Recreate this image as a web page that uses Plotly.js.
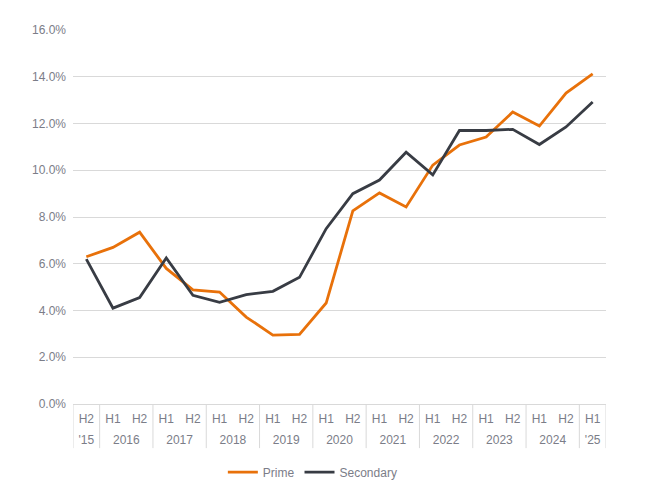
<!DOCTYPE html>
<html>
<head>
<meta charset="utf-8">
<script src="https://cdn.plot.ly/plotly-3.0.1.min.js"></script>
<style>html,body{margin:0;padding:0;background:#fff;}#chart{width:665px;height:485px;}</style>
</head>
<body>
<div id="chart"></div>
<script>
var yearLabels = ["'15","2016","2016","2017","2017","2018","2018","2019","2019","2020","2020","2021","2021","2022","2022","2023","2023","2024","2024","'25"];
var halfLabels = ["H2","H1","H2","H1","H2","H1","H2","H1","H2","H1","H2","H1","H2","H1","H2","H1","H2","H1","H2","H1"];
var prime = [6.3,6.7,7.35,5.8,4.88,4.79,3.72,2.95,2.98,4.32,8.26,9.03,8.43,10.22,11.08,11.42,12.49,11.89,13.3,14.12];
var secondary = [6.2,4.1,4.55,6.25,4.65,4.35,4.68,4.82,5.42,7.5,9.0,9.58,10.77,9.8,11.7,11.7,11.75,11.1,11.85,12.92];

var font = "Liberation Sans Narrow, Arial Narrow, Liberation Sans, Arial, sans-serif";
var grey = "#7b7d88";
var lineGrey = "#d9d9d9";

// unique category keys built from the two label rows
var periods = halfLabels.map(function(h, i){ return h + " " + yearLabels[i]; });
var n = periods.length;

// year groups: centres and boundaries
var groupCentres = [], groupText = [], bounds = [-0.5];
var start = 0;
for (var i = 1; i <= n; i++) {
  if (i === n || yearLabels[i] !== yearLabels[start]) {
    groupCentres.push((start + i - 1) / 2);
    groupText.push(yearLabels[start]);
    bounds.push(i - 0.5);
    start = i;
  }
}

var traces = [
  {x:periods, y:prime, name:"Prime", type:"scatter", mode:"lines",
   line:{color:"#e8710a", width:2.8}},
  {x:periods, y:secondary, name:"Secondary", type:"scatter", mode:"lines",
   line:{color:"#383c44", width:2.8}},
  // invisible helper trace for the year-label axis
  {x:[groupCentres[0]], y:[null], xaxis:"x2", type:"scatter", mode:"lines",
   showlegend:false, hoverinfo:"skip"}
];

var shapes = bounds.map(function(b){
  return {type:"line", xref:"x", yref:"paper", x0:b, x1:b, y0:0, y1:-0.118,
          line:{color:lineGrey, width:1}};
});

var layout = {
  width:665, height:485,
  margin:{l:73, r:59, t:30, b:81, autoexpand:false},
  paper_bgcolor:"#fff", plot_bgcolor:"#fff",
  font:{family:font, size:12, color:grey},
  showlegend:true,
  legend:{orientation:"h", x:0.45, xanchor:"center", y:-0.182, yanchor:"middle",
          font:{family:font, size:12, color:grey}},
  xaxis:{type:"category", range:[-0.5, n - 0.5], showgrid:false, zeroline:false,
         tickmode:"array", tickvals:periods, ticktext:halfLabels,
         showline:true, linecolor:lineGrey, linewidth:1, automargin:false,
         ticks:"", ticklabelstandoff:4, tickangle:0,
         tickfont:{family:font, size:12, color:grey}},
  xaxis2:{type:"linear", range:[-0.5, n - 0.5], overlaying:"x", anchor:"y", side:"bottom",
          showgrid:false, zeroline:false, showline:false, ticks:"", automargin:false,
          tickmode:"array", tickvals:groupCentres, ticktext:groupText,
          ticklabelstandoff:27, tickangle:0,
          tickfont:{family:font, size:12, color:grey}},
  yaxis:{range:[0,16], dtick:2, tick0:0, tickformat:".1f", ticksuffix:"%",
         showgrid:true, gridcolor:lineGrey, gridwidth:1, zeroline:false,
         showline:false, ticks:"", ticklabelstandoff:6, automargin:false,
         tickfont:{family:font, size:12, color:grey}},
  shapes:shapes
};

Plotly.newPlot("chart", traces, layout, {displayModeBar:false, staticPlot:true});
</script>
</body>
</html>
